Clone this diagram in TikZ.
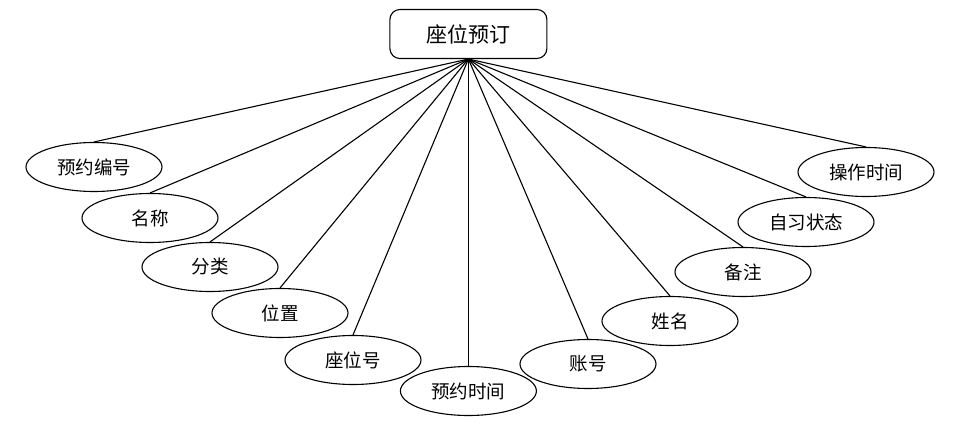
\documentclass[tikz,border=0pt]{standalone}
\usepackage{fontspec}
\setmainfont{Noto Sans CJK SC}
\usetikzlibrary{shapes.geometric}

\begin{document}
\begin{tikzpicture}[
x=1pt, y=-1pt,
every node/.style={align=center},
entity/.style={rectangle, rounded corners=10pt, draw, line width=1.1pt, minimum width=157pt, minimum height=49pt, inner sep=0pt, font=\fontsize{21}{24}\selectfont},
attr/.style={ellipse, draw, line width=1.1pt, minimum width=136pt, minimum height=49pt, inner sep=0pt, font=\fontsize{18.5}{21}\selectfont},
link/.style={line width=1.1pt}
]
\useasboundingbox (0,0) rectangle (961,441);

\node[entity] (seat) at (468.4,34) {座位预订};

\node[attr] (bookno) at (94,167) {预约编号};
\node[attr] (name) at (150,218) {名称};
\node[attr] (type) at (210,267) {分类};
\node[attr] (place) at (280,313) {位置};
\node[attr] (seatno) at (353,360) {座位号};
\node[attr] (booktime) at (468.4,391) {预约时间};
\node[attr] (account) at (588,364) {账号};
\node[attr] (person) at (670,321) {姓名};
\node[attr] (remark) at (743,272) {备注};
\node[attr] (status) at (806,222) {自习状态};
\node[attr] (optime) at (866,172) {操作时间};

\foreach \a in {bookno, name, type, place, seatno, booktime, account, person, remark, status, optime}
  \draw[link] (seat.south) -- (\a.north);

\end{tikzpicture}
\end{document}
